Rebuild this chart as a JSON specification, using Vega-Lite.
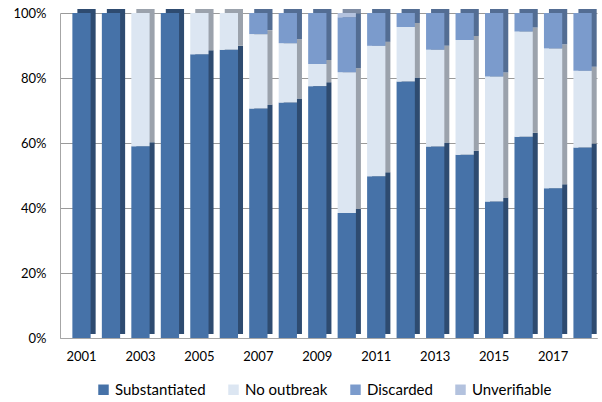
{
  "$schema": "https://vega.github.io/schema/vega-lite/v6.json",
  "width": 537,
  "height": 325,
  "autosize": "none",
  "padding": {"left": 60, "top": 13, "right": 5, "bottom": 64},
  "background": "white",
  "config": {
    "font": "Lato",
    "view": {"stroke": null},
    "axis": {"labelFont": "Lato", "labelFontSize": 13, "labelColor": "#000"},
    "legend": {"labelFont": "Lato", "labelFontSize": 15, "labelColor": "#000"}
  },
  "data": {
    "values": [
      {"year": 2001, "category": "Substantiated", "k": 1, "value": 100},
      {"year": 2002, "category": "Substantiated", "k": 1, "value": 100},
      {"year": 2003, "category": "Substantiated", "k": 1, "value": 59},
      {"year": 2003, "category": "No outbreak", "k": 2, "value": 41},
      {"year": 2004, "category": "Substantiated", "k": 1, "value": 100},
      {"year": 2005, "category": "Substantiated", "k": 1, "value": 87.3},
      {"year": 2005, "category": "No outbreak", "k": 2, "value": 12.7},
      {"year": 2006, "category": "Substantiated", "k": 1, "value": 88.7},
      {"year": 2006, "category": "No outbreak", "k": 2, "value": 11.3},
      {"year": 2007, "category": "Substantiated", "k": 1, "value": 70.6},
      {"year": 2007, "category": "No outbreak", "k": 2, "value": 22.9},
      {"year": 2007, "category": "Discarded", "k": 3, "value": 6.5},
      {"year": 2008, "category": "Substantiated", "k": 1, "value": 72.5},
      {"year": 2008, "category": "No outbreak", "k": 2, "value": 18.2},
      {"year": 2008, "category": "Discarded", "k": 3, "value": 9.3},
      {"year": 2009, "category": "Substantiated", "k": 1, "value": 77.5},
      {"year": 2009, "category": "No outbreak", "k": 2, "value": 6.8},
      {"year": 2009, "category": "Discarded", "k": 3, "value": 15.7},
      {"year": 2010, "category": "Substantiated", "k": 1, "value": 38.5},
      {"year": 2010, "category": "No outbreak", "k": 2, "value": 43.3},
      {"year": 2010, "category": "Discarded", "k": 3, "value": 16.9},
      {"year": 2010, "category": "Unverifiable", "k": 4, "value": 1.3},
      {"year": 2011, "category": "Substantiated", "k": 1, "value": 49.8},
      {"year": 2011, "category": "No outbreak", "k": 2, "value": 40.1},
      {"year": 2011, "category": "Discarded", "k": 3, "value": 10.1},
      {"year": 2012, "category": "Substantiated", "k": 1, "value": 78.9},
      {"year": 2012, "category": "No outbreak", "k": 2, "value": 16.8},
      {"year": 2012, "category": "Discarded", "k": 3, "value": 4.3},
      {"year": 2013, "category": "Substantiated", "k": 1, "value": 58.9},
      {"year": 2013, "category": "No outbreak", "k": 2, "value": 29.8},
      {"year": 2013, "category": "Discarded", "k": 3, "value": 11.3},
      {"year": 2014, "category": "Substantiated", "k": 1, "value": 56.4},
      {"year": 2014, "category": "No outbreak", "k": 2, "value": 35.3},
      {"year": 2014, "category": "Discarded", "k": 3, "value": 8.3},
      {"year": 2015, "category": "Substantiated", "k": 1, "value": 42},
      {"year": 2015, "category": "No outbreak", "k": 2, "value": 38.5},
      {"year": 2015, "category": "Discarded", "k": 3, "value": 19.5},
      {"year": 2016, "category": "Substantiated", "k": 1, "value": 61.9},
      {"year": 2016, "category": "No outbreak", "k": 2, "value": 32.4},
      {"year": 2016, "category": "Discarded", "k": 3, "value": 5.7},
      {"year": 2017, "category": "Substantiated", "k": 1, "value": 46.1},
      {"year": 2017, "category": "No outbreak", "k": 2, "value": 43},
      {"year": 2017, "category": "Discarded", "k": 3, "value": 10.9},
      {"year": 2018, "category": "Substantiated", "k": 1, "value": 58.6},
      {"year": 2018, "category": "No outbreak", "k": 2, "value": 23.6},
      {"year": 2018, "category": "Discarded", "k": 3, "value": 17.8}
    ]
  },
  "encoding": {
    "x": {
      "field": "year",
      "type": "ordinal",
      "scale": {"paddingInner": 0.38, "paddingOuter": 0.3, "align": 0.7},
      "axis": {
        "title": null,
        "values": [2001, 2003, 2005, 2007, 2009, 2011, 2013, 2015, 2017],
        "labelAngle": 0,
        "ticks": false,
        "domain": true,
        "domainColor": "#a6a6a6",
        "labelPadding": 12,
        "labelAlign": "center"
      }
    },
    "y": {
      "field": "value",
      "type": "quantitative",
      "stack": "normalize",
      "scale": {"domain": [0, 1]},
      "axis": {
        "title": null,
        "format": ".0%",
        "values": [0, 0.2, 0.4, 0.6, 0.8, 1],
        "ticks": false,
        "domain": true,
        "domainColor": "#a6a6a6",
        "gridColor": "#9a9a9a",
        "gridWidth": 1,
        "labelPadding": 14
      }
    },
    "order": {"field": "k", "type": "quantitative"}
  },
  "layer": [
    {
      "mark": {"type": "bar", "xOffset": 5, "yOffset": -4},
      "encoding": {
        "color": {
          "field": "category",
          "type": "nominal",
          "scale": {
            "domain": ["Substantiated", "No outbreak", "Discarded", "Unverifiable"],
            "range": ["#2E4B70", "#9BA2AC", "#536D93", "#7D8BA3"]
          },
          "legend": null
        }
      }
    },
    {
      "mark": {"type": "bar"},
      "encoding": {
        "color": {
          "field": "category",
          "type": "nominal",
          "sort": ["Substantiated", "No outbreak", "Discarded", "Unverifiable"],
          "scale": {
            "domain": ["Substantiated", "No outbreak", "Discarded", "Unverifiable"],
            "range": ["#4672A8", "#DCE6F2", "#7B9BCC", "#B3C2DE"]
          },
          "legend": {
            "title": null,
            "orient": "none",
            "legendX": 36,
            "legendY": 369,
            "direction": "horizontal",
            "symbolType": "square",
            "symbolSize": 110,
            "symbolStrokeWidth": 0,
            "columnPadding": 20
          }
        }
      }
    }
  ],
  "resolve": {"scale": {"color": "independent"}}
}
